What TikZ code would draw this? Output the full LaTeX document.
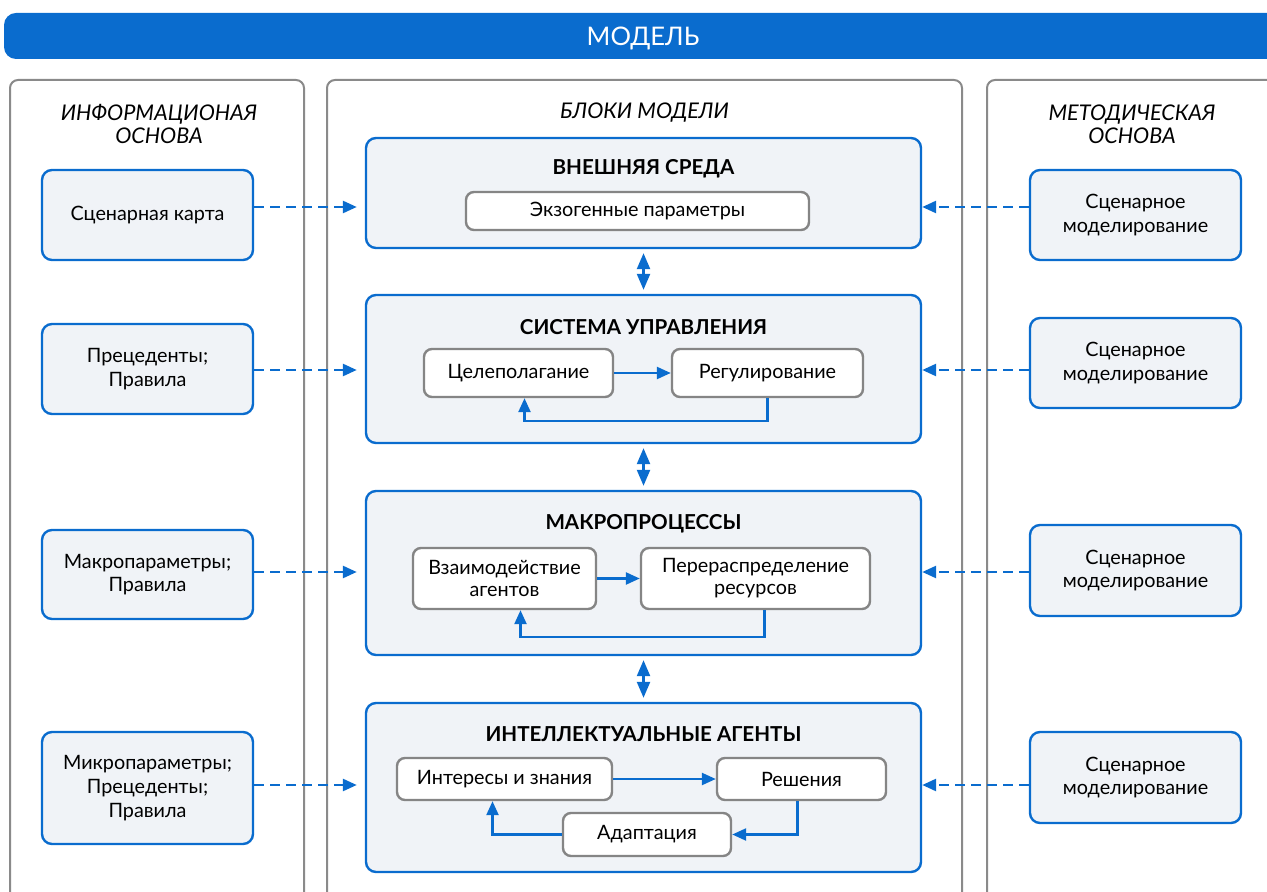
\documentclass[tikz,border=0pt]{standalone}
\usepackage{fontspec}
\setmainfont{Lato}
\usetikzlibrary{arrows.meta}

\definecolor{modelblue}{HTML}{0A6CCE}
\definecolor{boxfill}{HTML}{F0F3F7}
\definecolor{framegray}{HTML}{8A8A8A}
\definecolor{innergray}{HTML}{858585}

\begin{document}
\begin{tikzpicture}[x=0.5pt,y=-0.5pt]
      \tikzstyle{every node}+=[inner sep=0pt, text=black, font=\fontsize{9.9}{11.8}\selectfont]
      \tikzstyle{colframe}=[draw=framegray, line width=1pt, rounded corners=4pt]
      \tikzstyle{colhead}=[font=\fontsize{10.8}{11.5}\selectfont\itshape, align=center]
      \tikzstyle{srcbox}=[draw=modelblue, fill=boxfill, line width=1.2pt, rounded corners=5pt, minimum width=105.5pt, align=center]
      \tikzstyle{block}=[draw=modelblue, fill=boxfill, line width=1.2pt, rounded corners=5pt, minimum width=277.5pt]
      \tikzstyle{blockhead}=[font=\fontsize{10.3}{12}\selectfont\bfseries]
      \tikzstyle{part}=[draw=innergray, fill=white, line width=1.2pt, rounded corners=4pt, align=center, font=\fontsize{9.9}{11}\selectfont]
      \tikzstyle{flow}=[draw=modelblue, line width=1.2pt, -{Triangle[length=7pt,width=6pt]}]
      \tikzstyle{feed}=[draw=modelblue, line width=1.3pt, dash pattern=on 5pt off 3pt, -{Triangle[length=7pt,width=6pt]}]
      \tikzstyle{link}=[draw=modelblue, line width=1.2pt, {Triangle[length=8pt,width=6.5pt]}-{Triangle[length=8pt,width=6.5pt]}, shorten <=2pt, shorten >=2pt]
      \useasboundingbox (0,0) rectangle (1267,892);
      \clip (0,0) rectangle (1267,892);
      % banner
      \fill [modelblue, rounded corners=6pt] (4,13) rectangle (1290,59);
      \node [font=\fontsize{12.8}{14}\selectfont, text=white] (model) at (643,38) {МОДЕЛЬ};
      % columns
      \draw [colframe] (10,80) rectangle (304,920);
      \draw [colframe] (327,80) rectangle (962,920);
      \draw [colframe] (987,80) rectangle (1290,920);
      \node [colhead] (infohead) at (159,124) {ИНФОРМАЦИОНАЯ\\ОСНОВА};
      \node [colhead] (blockshead) at (644.5,113) {БЛОКИ МОДЕЛИ};
      \node [colhead] (methhead) at (1132,124) {МЕТОДИЧЕСКАЯ\\ОСНОВА};
      % information base
      \node [srcbox, minimum height=45pt] (info1) at (147.5,215) {Сценарная карта};
      \node [srcbox, minimum height=45pt] (info2) at (147.5,369) {Прецеденты;\\Правила};
      \node [srcbox, minimum height=44.5pt] (info3) at (147.5,574.5) {Макропараметры;\\Правила};
      \node [srcbox, minimum height=56pt] (info4) at (147.5,788) {Микропараметры;\\Прецеденты;\\Правила};
      % method base
      \node [srcbox, minimum height=45pt] (meth1) at (1135.5,215) {Сценарное\\моделирование};
      \node [srcbox, minimum height=45pt] (meth2) at (1135.5,363) {Сценарное\\моделирование};
      \node [srcbox, minimum height=45.5pt] (meth3) at (1135.5,570.5) {Сценарное\\моделирование};
      \node [srcbox, minimum height=45.5pt] (meth4) at (1135.5,777.5) {Сценарное\\моделирование};
      % model blocks
      \node [block, minimum height=55pt] (blk1) at (643.5,193) {};
      \node [block, minimum height=74pt] (blk2) at (643.5,369) {};
      \node [block, minimum height=82pt] (blk3) at (643.5,573) {};
      \node [block, minimum height=84.5pt] (blk4) at (643.5,787.5) {};
      \node [blockhead] (head1) at (643.5,169) {ВНЕШНЯЯ СРЕДА};
      \node [blockhead] (head2) at (643.5,327) {СИСТЕМА УПРАВЛЕНИЯ};
      \node [blockhead] (head3) at (643.5,524) {МАКРОПРОЦЕССЫ};
      \node [blockhead] (head4) at (643.5,734) {ИНТЕЛЛЕКТУАЛЬНЫЕ АГЕНТЫ};
      \node [part, minimum width=171.5pt, minimum height=19pt] (exo) at (637.5,211) {Экзогенные параметры};
      \node [part, minimum width=94.5pt, minimum height=24pt] (goal) at (518.5,373) {Целеполагание};
      \node [part, minimum width=95.5pt, minimum height=24pt] (regul) at (767.5,373) {Регулирование};
      \node [part, minimum width=91.5pt, minimum height=30.5pt] (inter) at (504.5,578.5) {Взаимодействие\\агентов};
      \node [part, minimum width=114.5pt, minimum height=30.5pt] (redis) at (755.5,578.5) {Перераспределение\\ресурсов};
      \node [part, minimum width=107.5pt, minimum height=21pt] (know) at (504.5,779) {Интересы и знания};
      \node [part, minimum width=84.5pt, minimum height=21pt] (decis) at (801.5,779) {Решения};
      \node [part, minimum width=84pt, minimum height=21.5pt] (adapt) at (647,834.5) {Адаптация};
      % loops inside blocks
      \draw [flow] (goal) -- (regul);
      \draw [flow] (regul.south) -- ++(0,23) -| ([xshift=3pt]goal.south);
      \draw [flow] (inter) -- (redis);
      \draw [flow] ([xshift=4.5pt]redis.south) -- ++(0,27) -| ([xshift=8pt]inter.south);
      \draw [flow] (know) -- (decis);
      \draw [flow] ([xshift=-2pt]decis.south) |- (adapt.east);
      \draw [flow] (adapt.west) -| ([xshift=-6pt]know.south);
      % links between blocks
      \draw [link] (blk1.south) -- (blk2.north);
      \draw [link] (blk2.south) -- (blk3.north);
      \draw [link] (blk3.south) -- (blk4.north);
      % inputs
      \coordinate (row1) at (0,207);
      \coordinate (row2) at (0,370);
      \coordinate (row3) at (0,572);
      \coordinate (row4) at (0,785);
      \draw [feed, shorten >=4pt] (info1.east |- row1) -- (blk1.west |- row1);
      \draw [feed, shorten >=4pt] (info2.east |- row2) -- (blk2.west |- row2);
      \draw [feed, shorten >=4pt] (info3.east |- row3) -- (blk3.west |- row3);
      \draw [feed, shorten >=4pt] (info4.east |- row4) -- (blk4.west |- row4);
      \draw [feed] (meth1.west |- row1) -- (blk1.east |- row1);
      \draw [feed] (meth2.west |- row2) -- (blk2.east |- row2);
      \draw [feed] (meth3.west |- row3) -- (blk3.east |- row3);
      \draw [feed] (meth4.west |- row4) -- (blk4.east |- row4);
    \end{tikzpicture}
\end{document}
